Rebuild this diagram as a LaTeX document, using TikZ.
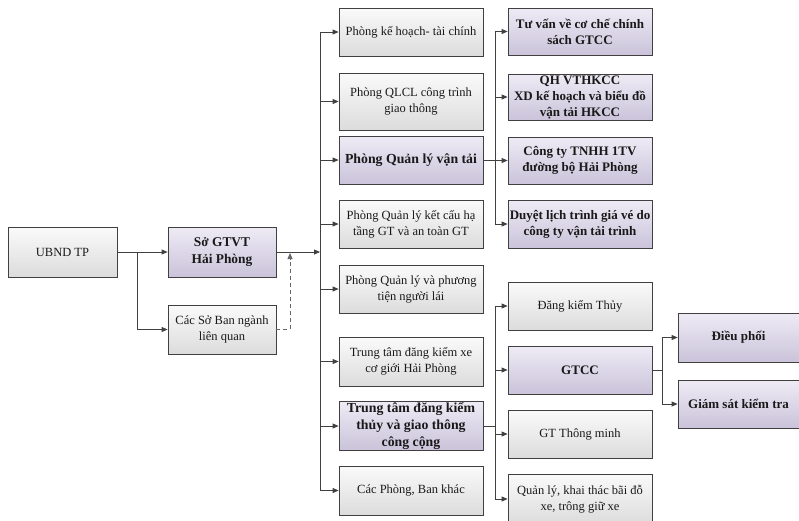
\documentclass[tikz,border=0pt]{standalone}
\usepackage{fontspec}
\setmainfont{Liberation Serif}
\usetikzlibrary{arrows.meta}
\definecolor{lineC}{HTML}{404040}
\definecolor{gTop}{HTML}{FAFAFA}
\definecolor{gBot}{HTML}{DCDCDC}
\definecolor{pTop}{HTML}{EEEBF5}
\definecolor{pBot}{HTML}{CAC3DA}
\tikzset{
  box/.style={draw=lineC, line width=0.8pt, top color=gTop, bottom color=gBot, align=center,
    inner sep=1pt, font=\fontsize{12.5}{16}\selectfont, text=black!90},
  pbox/.style={box, top color=pTop, bottom color=pBot, font=\fontsize{13}{16}\selectfont\bfseries},
  conn/.style={draw=lineC, line width=0.8pt},
  arr/.style={conn, -{Triangle[length=6pt,width=5pt]}},
  darr/.style={draw=lineC!80, line width=0.8pt, dash pattern=on 4pt off 3pt, -{Triangle[length=6pt,width=5pt]}},
}
\begin{document}
\begin{tikzpicture}[x=1pt,y=-1pt]
\useasboundingbox (0,0) rectangle (799,520);
% left
\node[box, minimum width=109pt, minimum height=50pt] (ubnd) at (62.5,252) {UBND TP};
\node[pbox, minimum width=108pt, minimum height=50pt, font=\fontsize{13.4}{17}\selectfont\bfseries] (so) at (222,252) {Sở GTVT\\Hải Phòng};
\node[box, minimum width=108pt, minimum height=49pt] (cacso) at (222,329.5) {Các Sở Ban ngành\\liên quan};
% middle
\node[box, minimum width=144pt, minimum height=48pt] (m1) at (411,32) {Phòng kế hoạch- tài chính};
\node[box, minimum width=144pt, minimum height=57pt] (m2) at (411,101.5) {Phòng QLCL công trình\\giao thông};
\node[pbox, minimum width=144pt, minimum height=48pt, font=\fontsize{13.8}{16}\selectfont\bfseries] (m3) at (411,160) {Phòng Quản lý vận tải};
\node[box, minimum width=144pt, minimum height=48pt] (m4) at (411,224) {Phòng Quản lý kết cấu hạ\\tầng GT và an toàn GT};
\node[box, minimum width=144pt, minimum height=48pt] (m5) at (411,289) {Phòng Quản lý và phương\\tiện người lái};
\node[box, minimum width=144pt, minimum height=49pt] (m6) at (411,361.5) {Trung tâm đăng kiểm xe\\cơ giới Hải Phòng};
\node[pbox, minimum width=144pt, minimum height=48pt, font=\fontsize{13.8}{16.7}\selectfont\bfseries] (m7) at (411,426) {Trung tâm đăng kiểm\\thủy và giao thông\\công cộng};
\node[box, minimum width=144pt, minimum height=49pt] (m8) at (411,490.5) {Các Phòng, Ban khác};
% right top
\node[pbox, minimum width=144pt, minimum height=47pt] (r1) at (580,31.5) {Tư vấn về cơ chế chính\\sách GTCC};
\node[pbox, minimum width=144pt, minimum height=46pt] (r2) at (580,97) {QH VTHKCC\\XD kế hoạch và biểu đồ\\vận tải HKCC};
\node[pbox, minimum width=144pt, minimum height=47pt] (r3) at (580,160.5) {Công ty TNHH 1TV\\đường bộ Hải Phòng};
\node[pbox, minimum width=144pt, minimum height=48pt] (r4) at (580,224) {Duyệt lịch trình giá vé do\\công ty vận tải trình};
% right bottom
\node[box, minimum width=144pt, minimum height=48pt] (b1) at (580,306) {Đăng kiểm Thủy};
\node[pbox, minimum width=144pt, minimum height=48pt] (b2) at (580,370) {GTCC};
\node[box, minimum width=144pt, minimum height=48pt] (b3) at (580,434) {GT Thông minh};
\node[box, minimum width=144pt, minimum height=50pt] (b4) at (580,499) {Quản lý, khai thác bãi đỗ\\xe, trông giữ xe};
% far right
\node[pbox, minimum width=121pt, minimum height=49pt] (f1) at (738.5,337.5) {Điều phối};
\node[pbox, minimum width=121pt, minimum height=48pt] (f2) at (738.5,404) {Giám sát kiểm tra};
% coordinates
\coordinate (j0) at (137,252);
\coordinate (t0) at (320,252);
\coordinate (d1) at (290,329.5);
\coordinate (d2) at (290,253);
\coordinate (t1) at (495,160);
\coordinate (t2) at (495,426);
\coordinate (t3) at (662,370);
% connectors
\draw[arr] (ubnd.east) -- (so.west);
\draw[arr] (j0) |- (cacso.west);
\draw[arr] (so.east) -- (t0);
\draw[conn] (t0 |- m1.west) -- (t0 |- m8.west);
\foreach \n in {m1,m2,m3,m4,m5,m6,m7,m8} \draw[arr] (t0 |- \n.west) -- (\n.west);
\draw[darr] (cacso.east) -- (d1) -- (d2);
\draw[conn] (m3.east) -- (t1);
\draw[conn] (t1 |- r1.west) -- (t1 |- r4.west);
\foreach \n in {r1,r2,r3,r4} \draw[arr] (t1 |- \n.west) -- (\n.west);
\draw[conn] (m7.east) -- (t2);
\draw[conn] (t2 |- b1.west) -- (t2 |- b4.west);
\foreach \n in {b1,b2,b3,b4} \draw[arr] (t2 |- \n.west) -- (\n.west);
\draw[conn] (b2.east) -- (t3);
\draw[conn] (t3 |- f1.west) -- (t3 |- f2.west);
\foreach \n in {f1,f2} \draw[arr] (t3 |- \n.west) -- (\n.west);
\end{tikzpicture}
\end{document}
